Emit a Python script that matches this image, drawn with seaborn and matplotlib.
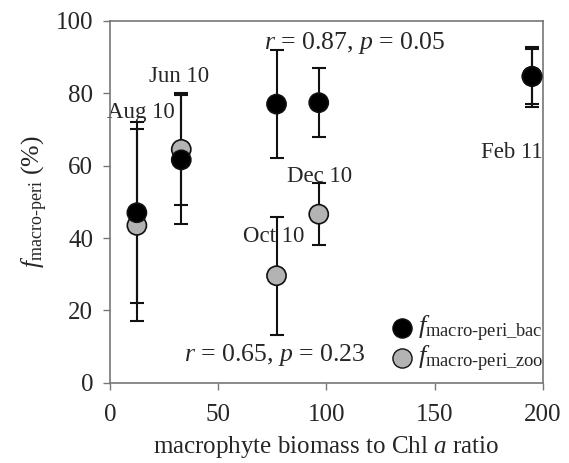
import pandas as pd
import matplotlib
matplotlib.use('Agg')
import matplotlib.pyplot as plt
import seaborn as sns

# values
months = ['Aug 10', 'Jun 10', 'Oct 10', 'Dec 10', 'Feb 11']
ratio = [12.5, 33, 77, 96.5, 195]
f_bac = [47, 61.6, 77, 77.4, 84.6]
f_bac_err = [25, 17.8, 15, 9.5, 8.3]
f_zoo = [43.5, 64.5, 29.6, 46.6, 84.7]
f_zoo_err = [26.5, 15.5, 16.3, 8.6, 7.6]

# label spots for the month names (data coords)
label_x = [14.3, 31.9, 75.5, 96.8, 185.7]
label_y = [74.6, 84.5, 40.4, 56.9, 63.5]


def build_frame() -> pd.DataFrame:
    bac = pd.DataFrame({'ratio': ratio, 'f': f_bac, 'err': f_bac_err, 'series': 'bac'})
    zoo = pd.DataFrame({'ratio': ratio, 'f': f_zoo, 'err': f_zoo_err, 'series': 'zoo'})
    # zoo first so the black points sit on top
    return pd.concat([zoo, bac], ignore_index=True)


def plot_frac(df: pd.DataFrame) -> None:
    sns.set_style('ticks')
    plt.rcParams['font.family'] = ['Liberation Serif', 'DejaVu Serif']
    plt.rcParams['mathtext.fontset'] = 'custom'
    plt.rcParams['mathtext.rm'] = 'Liberation Serif'
    plt.rcParams['mathtext.it'] = 'Liberation Serif:italic'

    fig = plt.figure(figsize=(5.69, 4.63), dpi=100)
    ax = fig.add_axes([0.193, 0.173, 0.761, 0.782])

    for name in ['zoo', 'bac']:
        sub = df[df['series'] == name]
        ax.errorbar(sub['ratio'], sub['f'], yerr=sub['err'], fmt='none',
                    ecolor='#111111', elinewidth=1.5, capsize=5, capthick=1.5, zorder=2)

    sns.scatterplot(data=df, x='ratio', y='f', hue='series',
                    palette={'bac': '#000000', 'zoo': '#b3b3b3'},
                    s=190, edgecolor='#111111', linewidth=1.2, ax=ax, zorder=3, legend=False)

    for m, lx, ly in zip(months, label_x, label_y):
        ax.text(lx, ly, m, ha='center', va='center', fontsize=16.5, zorder=1)

    ax.text(113, 94, r'$r$ = 0.87, $p$ = 0.05', ha='center', va='center', fontsize=18.5, zorder=1)
    ax.text(76.2, 7.7, r'$r$ = 0.65, $p$ = 0.23', ha='center', va='center', fontsize=18.5, zorder=1)

    # legend
    h_bac = ax.scatter([], [], s=190, color='#000000', edgecolor='#111111')
    h_zoo = ax.scatter([], [], s=190, color='#b3b3b3', edgecolor='#111111')
    ax.legend([h_bac, h_zoo],
              [r'$f_{\mathrm{macro\text{-}peri\_bac}}$', r'$f_{\mathrm{macro\text{-}peri\_zoo}}$'],
              loc='lower right', bbox_to_anchor=(1.045, -0.027), frameon=False,
              fontsize=19, handletextpad=-0.2, labelspacing=0.0, borderpad=0.2,
              handlelength=1.6)

    ax.set_xlim(0, 200)
    ax.set_ylim(0, 100)
    ax.set_xticks([0, 50, 100, 150, 200])
    ax.set_yticks([0, 20, 40, 60, 80, 100])
    ax.tick_params(labelsize=18, length=5, width=1, color='#777777', direction='out', pad=7)
    ax.tick_params(axis='x', pad=10)
    for sp in ax.spines.values():
        sp.set_color('#777777')
        sp.set_linewidth(1.2)

    ax.set_xlabel(r'macrophyte biomass to Chl $a$ ratio', fontsize=18, labelpad=6)
    ax.set_ylabel(r'$f_{\mathrm{macro\text{-}peri}}$ (%)', fontsize=18.5, labelpad=4)

    fig.savefig('out.png', dpi=100)


def main() -> None:
    df = build_frame()
    plot_frac(df)


if __name__ == '__main__':
    main()
